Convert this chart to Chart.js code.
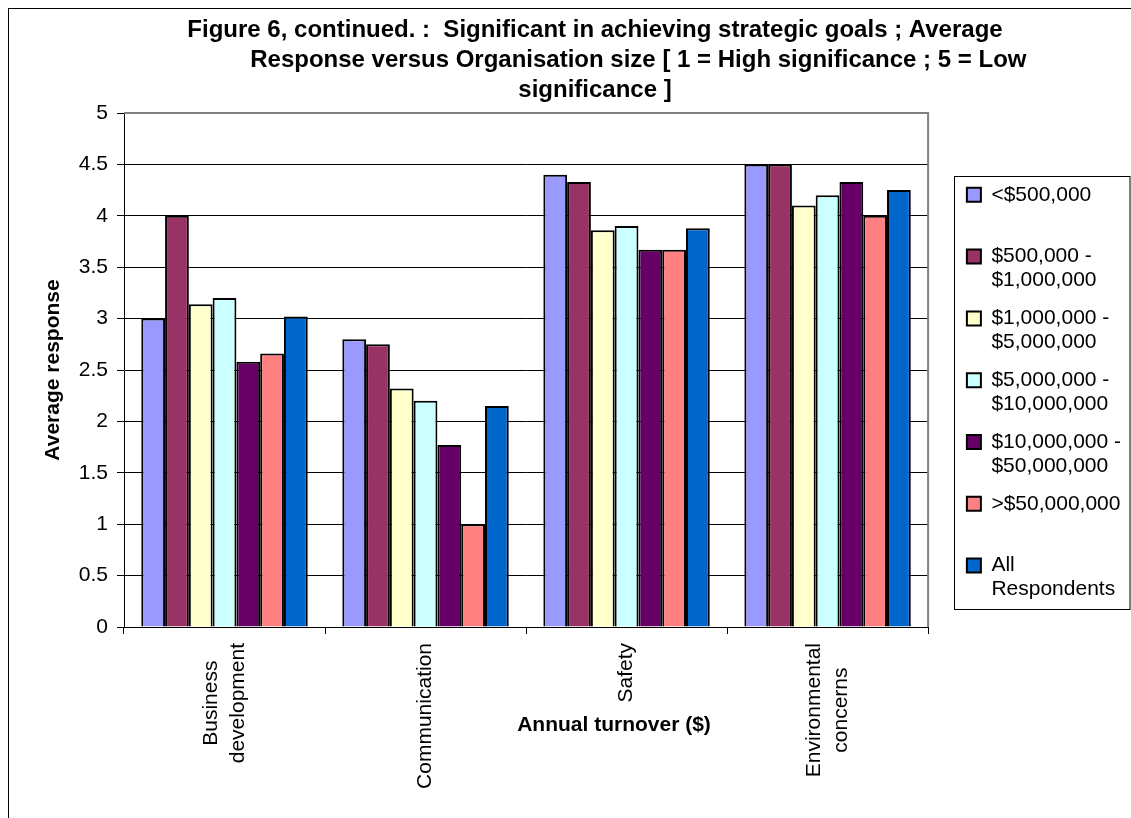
<!DOCTYPE html>
<html>
<head>
<meta charset="utf-8">
<script src="https://cdn.jsdelivr.net/npm/chart.js@4.4.1/dist/chart.umd.min.js"></script>
<style>
  html, body { margin: 0; padding: 0; background: #fff; overflow: hidden; }
  #frame { position: absolute; left: 8px; top: 8px; width: 1400px; height: 1000px; border: 1px solid #000; }
  #wrap { position: absolute; left: 0; top: 0; width: 1131px; height: 818px; }
</style>
</head>
<body>
<div id="frame"></div>
<div id="wrap"><canvas id="chart"></canvas></div>
<script>
const categories = ['Business development', 'Communication', 'Safety', 'Environmental concerns'];
const seriesNames = ['<$500,000', '$500,000 - $1,000,000', '$1,000,000 - $5,000,000',
  '$5,000,000 - $10,000,000', '$10,000,000 - $50,000,000', '>$50,000,000', 'All Respondents'];
const seriesColors = ['#9999FF', '#993366', '#FFFFCC', '#CCFFFF', '#660066', '#FF8080', '#0066CC'];

const under500k = [3.00, 2.80, 4.40, 4.50];
const from500kTo1m = [4.00, 2.75, 4.33, 4.50];
const from1mTo5m = [3.14, 2.32, 3.86, 4.10];
const from5mTo10m = [3.20, 2.20, 3.90, 4.20];
const from10mTo50m = [2.58, 1.77, 3.67, 4.33];
const over50m = [2.66, 1.00, 3.67, 4.00];
const allRespondents = [3.02, 2.15, 3.88, 4.25];

const titleLines = [
  'Figure 6, continued. :  Significant in achieving strategic goals ; Average',
  '             Response versus Organisation size [ 1 = High significance ; 5 = Low',
  'significance ]'
];
const yAxisTitle = 'Average response';
const xAxisTitle = 'Annual turnover ($)';

const FONT = '"Liberation Sans", Arial, sans-serif';
Chart.defaults.font.family = FONT;
Chart.defaults.font.size = 21;
Chart.defaults.color = '#000';

function legendLines(text) {
  if (text.includes(' - ')) {
    const parts = text.split(' - ');
    return [parts[0] + ' -', parts[1]];
  }
  if (text.includes(' ')) return text.split(' ');
  return [text, ''];
}

const plotExtras = {
  id: 'plotExtras',
  afterDraw(chart) {
    const { ctx, chartArea: a } = chart;
    const xs = chart.scales.x;
    ctx.save();
    ctx.strokeStyle = '#808080';
    ctx.lineWidth = 2;
    ctx.beginPath();
    ctx.moveTo(a.left, a.top);
    ctx.lineTo(a.right, a.top);
    ctx.lineTo(a.right, a.bottom);
    ctx.stroke();

    // category labels: rotated, each line centred on the group
    ctx.fillStyle = '#000';
    ctx.font = '21px ' + FONT;
    ctx.textAlign = 'center';
    ctx.textBaseline = 'middle';
    categories.forEach((cat, i) => {
      const lines = cat.split(' ');
      const px = xs.getPixelForTick(i);
      const maxW = Math.max(...lines.map(l => ctx.measureText(l).width));
      lines.forEach((l, j) => {
        ctx.save();
        ctx.translate(px + (j - (lines.length - 1) / 2) * 27, a.bottom + 16 + maxW / 2);
        ctx.rotate(-Math.PI / 2);
        ctx.fillText(l, 0, 0);
        ctx.restore();
      });
    });

    // x axis title sits inside the label band, as in the original
    ctx.font = 'bold 21px ' + FONT;
    ctx.fillText(xAxisTitle, a.left + 490, a.bottom + 98);

    // legend frame
    const hb = chart.legend.legendHitBoxes;
    const first = hb[0], last = hb[hb.length - 1];
    ctx.strokeStyle = '#000';
    ctx.lineWidth = 1;
    const x0 = Math.round(first.left - 13) + 0.5;
    const y0 = Math.round(first.top - 8) + 0.5;
    const y1 = Math.round(last.top + last.height + 6) + 0.5;
    ctx.strokeRect(x0, y0, chart.width - 1 - x0, y1 - y0);
    ctx.restore();
  }
};

const seriesData = [under500k, from500kTo1m, from1mTo5m, from5mTo10m, from10mTo50m, over50m, allRespondents];

new Chart(document.getElementById('chart'), {
  type: 'bar',
  data: {
    labels: categories,
    datasets: seriesNames.map((name, i) => ({
      label: name,
      data: seriesData[i],
      backgroundColor: seriesColors[i],
      borderColor: '#000',
      borderWidth: 2,
      categoryPercentage: 0.828,
      barPercentage: 1
    }))
  },
  options: {
    responsive: true,
    maintainAspectRatio: false,
    animation: false,
    layout: { padding: { left: 59, right: 0, top: 0, bottom: 0 } },
    plugins: {
      title: {
        display: true,
        text: titleLines,
        color: '#000',
        font: { size: 24, weight: 'bold', lineHeight: '30px' },
        padding: { top: 15, bottom: 8 }
      },
      legend: {
        position: 'right',
        align: 'start',
        fullSize: false,
        title: { display: true, text: '', font: { size: 10, lineHeight: 1.2 }, padding: { top: 45.5, bottom: 0 } },
        labels: {
          boxWidth: 14,
          boxHeight: 14,
          padding: 13.8,
          color: '#000',
          font: { size: 21, lineHeight: '24px' },
          generateLabels: chart => Chart.defaults.plugins.legend.labels.generateLabels(chart)
            .map(item => Object.assign(item, { text: legendLines(item.text) }))
        }
      },
      tooltip: { enabled: false }
    },
    scales: {
      x: {
        grid: { drawOnChartArea: false, drawTicks: true, tickLength: 7, color: '#000' },
        border: { color: '#000', width: 1 },
        ticks: { display: false, autoSkip: false },
        afterFit: s => { s.height = 818 - 627; }
      },
      y: {
        min: 0, max: 5,
        ticks: { stepSize: 0.5, padding: 9, callback: v => String(v) },
        grid: { color: '#000', tickLength: 7 },
        border: { color: '#000', width: 1 },
        title: { display: true, text: yAxisTitle, font: { size: 21, weight: 'bold' }, padding: { top: -18.6, bottom: 0 } },
        afterFit: s => { s.width = 124 - 59; }
      },
      y2: {
        position: 'right',
        display: true,
        grid: { display: false },
        ticks: { display: false },
        border: { display: false },
        afterFit: s => { s.width = 25; }
      }
    }
  },
  plugins: [plotExtras]
});
</script>
</body>
</html>
